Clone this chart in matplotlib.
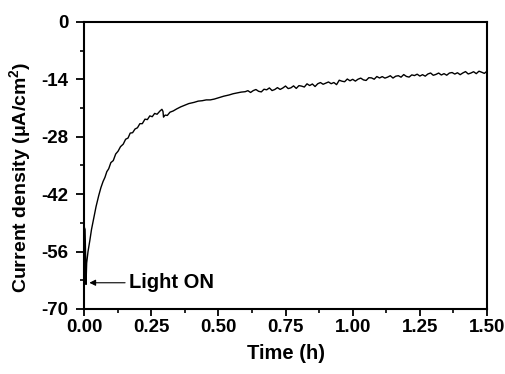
import numpy as np
import matplotlib
matplotlib.use("Agg")
from matplotlib import pyplot as plt

plt.rcParams['font.family'] = ['Liberation Sans', 'DejaVu Sans']
plt.rcParams['font.weight'] = 'bold'
plt.rcParams['axes.unicode_minus'] = False
plt.rcParams['mathtext.fontset'] = 'custom'
plt.rcParams['mathtext.rm'] = 'Liberation Sans:bold'
plt.rcParams['mathtext.bf'] = 'Liberation Sans:bold'
plt.rcParams['mathtext.default'] = 'bf'

# photocurrent transient
t_early = [0.000, 0.002, 0.004, 0.006, 0.0075, 0.010, 0.015, 0.022, 0.028, 0.035,
           0.045, 0.055, 0.063, 0.071, 0.078, 0.085, 0.092, 0.100, 0.109, 0.118,
           0.127, 0.136, 0.146, 0.155, 0.164, 0.172, 0.181, 0.190, 0.199, 0.208,
           0.217, 0.227, 0.236, 0.245, 0.254, 0.263, 0.272, 0.283, 0.290, 0.294,
           0.296, 0.302, 0.310, 0.320, 0.332, 0.345, 0.360, 0.375, 0.390, 0.410,
           0.425, 0.440, 0.455, 0.470, 0.485, 0.500, 0.520, 0.540, 0.555, 0.570,
           0.585, 0.600]
j_early = [-50.4, -50.2, -50.6, -57.0, -64.0, -58.8, -56.0, -53.2, -50.6, -48.3,
           -45.0, -42.3, -40.4, -38.9, -37.9, -36.5, -35.8, -34.3, -33.8, -32.2,
           -31.5, -30.4, -29.8, -28.6, -28.3, -27.1, -27.0, -26.1, -25.8, -24.8,
           -24.8, -23.7, -23.8, -22.9, -23.1, -22.3, -22.5, -21.7, -21.3, -21.8,
           -23.2, -22.7, -22.8, -22.0, -21.7, -21.2, -20.7, -20.3, -19.9, -19.6,
           -19.3, -19.2, -19.0, -19.0, -18.8, -18.5, -18.1, -17.8, -17.5, -17.3,
           -17.1, -17.0]

t_late = [round(0.61 + 0.01 * i, 2) for i in range(90)]
j_late = [-16.75, -17.19, -16.73, -16.47, -16.91, -17.05, -16.40, -16.54, -16.08, -16.72,
          -16.47, -16.01, -16.45, -16.10, -15.62, -16.24, -16.06, -15.58, -16.20, -15.52,
          -15.64, -15.86, -15.08, -15.50, -15.12, -15.74, -15.06, -14.77, -15.19, -14.91,
          -14.63, -15.05, -14.76, -15.28, -14.20, -14.44, -14.57, -13.91, -14.34, -13.98,
          -14.42, -13.95, -13.69, -14.12, -14.26, -13.59, -13.63, -13.96, -13.30, -13.66,
          -13.32, -13.69, -13.45, -13.11, -13.67, -13.23, -13.10, -13.46, -12.82, -13.28,
          -13.44, -12.90, -13.07, -12.73, -13.19, -12.85, -13.21, -12.68, -12.44, -13.00,
          -12.78, -12.45, -12.93, -12.60, -12.98, -12.45, -12.33, -12.70, -12.38, -12.85,
          -12.43, -12.10, -12.68, -12.45, -12.13, -12.60, -12.00, -12.25, -12.53, -12.00]

t = np.array(t_early + t_late)
j = np.array(j_early + j_late)

fig = plt.figure(figsize=(5.05, 3.74), dpi=100)
ax = fig.add_axes([0.1663, 0.1738, 0.7981, 0.7674])
ax.plot(t, j, color='black', lw=1.0)

ax.set_xlim(0, 1.5)
ax.set_ylim(-70, 0)
ax.set_xticks(np.arange(0, 1.51, 0.25))
ax.set_xticks(np.arange(0.125, 1.5, 0.25), minor=True)
ax.set_yticks(np.arange(-70, 1, 14))
ax.set_yticks(np.arange(-63, 0, 14), minor=True)
ax.set_xticklabels(['%.2f' % v for v in np.arange(0, 1.51, 0.25)])
ax.tick_params(which='major', direction='out', length=5, width=1.3, labelsize=13.5, pad=2)
ax.tick_params(axis='y', which='major', length=6, pad=5)
ax.tick_params(which='minor', direction='out', length=3, width=1.2)
for s in ax.spines.values():
    s.set_linewidth(1.5)

ax.set_xlabel('Time (h)', fontsize=14.5, fontweight='bold', labelpad=6)
ax.set_ylabel('Current density (\u03bcA/cm$^{2}$)', fontsize=14, fontweight='bold')
ax.yaxis.set_label_coords(-0.127, 0.46)

ax.annotate('', xy=(0.020, -63.6), xytext=(0.153, -63.6),
            arrowprops=dict(arrowstyle='-|>', color='black', lw=0.8, mutation_scale=9,
                            shrinkA=0, shrinkB=0))
ax.text(0.168, -63.6, 'Light ON', fontsize=14.5, fontweight='bold', va='center')

fig.savefig('out.png', dpi=100)
